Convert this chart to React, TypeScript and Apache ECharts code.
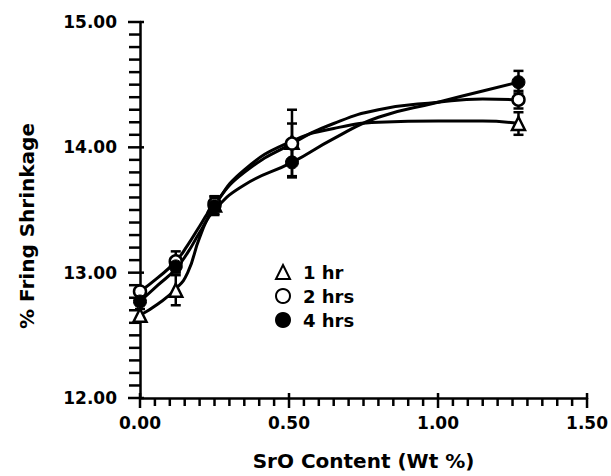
import React, { useEffect, useRef } from "react";
import * as echarts from "echarts";

const xValues = [0, 0.12, 0.25, 0.51, 1.27];
const hr1 = [12.66, 12.86, 13.54, 14.04, 14.19];
const hr2 = [12.85, 13.09, 13.55, 14.03, 14.38];
const hr4 = [12.77, 13.05, 13.53, 13.88, 14.52];
const err1 = [0.05, 0.12, 0.07, 0.15, 0.09];
const err2 = [0.03, 0.08, 0.06, 0.27, 0.07];
const err4 = [0.03, 0.05, 0.07, 0.11, 0.09];

const curveX = [0, 0.06, 0.12, 0.16, 0.2, 0.25, 0.35, 0.51, 0.65, 0.8, 1.0, 1.15, 1.27];
const fit1 = [12.66, 12.75, 12.87, 13.0, 13.28, 13.53, 13.82, 14.05, 14.15, 14.2, 14.21, 14.21, 14.19];
const fit2 = [12.85, 12.96, 13.09, 13.22, 13.37, 13.55, 13.8, 14.03, 14.19, 14.3, 14.36, 14.385, 14.38];
const fit4 = [12.77, 12.9, 13.03, 13.16, 13.32, 13.5, 13.7, 13.88, 14.07, 14.24, 14.36, 14.45, 14.52];

const seriesNames = ["1 hr", "2 hrs", "4 hrs"];
const xTickLabels = ["0.00", "0.50", "1.00", "1.50"];
const yTickLabels = ["12.00", "13.00", "14.00", "15.00"];
const xTitle = "SrO Content (Wt %)";
const yTitle = "% Fring Shrinkage";

const X_MIN = 0, X_MAX = 1.5, X_MAJOR = 0.5, X_MINOR = 0.05;
const Y_MIN = 12, Y_MAX = 15, Y_MAJOR = 1, Y_MINOR = 0.1;

const FONT = "DejaVu Sans";
const BLACK = "#000";

function pairs(xs: number[], ys: number[]) {
  return xs.map((x, i) => [x, ys[i]]);
}

function errData(ys: number[], es: number[]) {
  return xValues.map((x, i) => [x, ys[i] - es[i], ys[i] + es[i]]);
}

function errorSeries(ys: number[], es: number[]) {
  return {
    type: "custom",
    silent: true,
    z: 3,
    data: errData(ys, es),
    renderItem: (params: any, api: any) => {
      const x = api.value(0);
      const lo = api.coord([x, api.value(1)]);
      const hi = api.coord([x, api.value(2)]);
      const w = 5;
      const style = { stroke: BLACK, lineWidth: 2.5 };
      return {
        type: "group",
        children: [
          { type: "line", shape: { x1: lo[0], y1: lo[1], x2: hi[0], y2: hi[1] }, style },
          { type: "line", shape: { x1: lo[0] - w, y1: lo[1], x2: lo[0] + w, y2: lo[1] }, style },
          { type: "line", shape: { x1: hi[0] - w, y1: hi[1], x2: hi[0] + w, y2: hi[1] }, style },
        ],
      };
    },
  };
}

function curveSeries(ys: number[]) {
  return {
    type: "line",
    data: pairs(curveX, ys),
    smooth: 0.5,
    showSymbol: false,
    symbol: "none",
    silent: true,
    z: 2,
    lineStyle: { color: BLACK, width: 3 },
  };
}

// Axis tick marks (major + minor), one item per tick step, positioned through the axes' scales
const yTickSteps: number[] = [];
for (let k = 0; k <= Math.round((Y_MAX - Y_MIN) / Y_MINOR); k++) yTickSteps.push(k);
const xTickSteps: number[] = [];
for (let k = 0; k <= Math.round((X_MAX - X_MIN) / X_MINOR); k++) xTickSteps.push(k);

const tickData = [
  ...yTickSteps.map((k) => [X_MIN, Y_MIN + k * Y_MINOR, 0, k % Math.round(Y_MAJOR / Y_MINOR) === 0 ? 1 : 0]),
  ...xTickSteps.map((k) => [X_MIN + k * X_MINOR, Y_MIN, 1, k % Math.round(X_MAJOR / X_MINOR) === 0 ? 1 : 0]),
];

const tickSeries = {
  type: "custom",
  silent: true,
  z: 4,
  clip: false,
  data: tickData,
  renderItem: (params: any, api: any) => {
    const p = api.coord([api.value(0), api.value(1)]);
    const isX = api.value(2) === 1;
    const major = api.value(3) === 1;
    const style = { stroke: BLACK, lineWidth: 2.5 };
    if (!isX) {
      return {
        type: "line",
        shape: { x1: p[0] - (major ? 12 : 11), y1: p[1], x2: p[0] + (major ? 4 : 0), y2: p[1] },
        style,
      };
    }
    return {
      type: "line",
      shape: { x1: p[0], y1: p[1] - (major ? 5 : 0), x2: p[0], y2: p[1] + (major ? 10 : 8) },
      style,
    };
  },
};

export default function App() {
  const ref = useRef<HTMLDivElement>(null);
  useEffect(() => {
    document.body.style.margin = "0";
    const chart = echarts.init(ref.current!, null, { renderer: "svg" });
    chart.setOption({
      animation: false,
      backgroundColor: "#fff",
      grid: { left: 140, right: 23, top: 22, bottom: 78 },
      xAxis: {
        type: "value",
        min: X_MIN,
        max: X_MAX,
        interval: X_MAJOR,
        name: xTitle,
        nameLocation: "middle",
        nameGap: 53,
        nameTextStyle: { fontFamily: FONT, fontWeight: "bold", fontSize: 20, color: BLACK },
        axisLine: { lineStyle: { color: BLACK, width: 2.5 } },
        axisTick: { show: false },
        splitLine: { show: false },
        axisLabel: {
          margin: 16,
          fontFamily: FONT,
          fontWeight: "bold",
          fontSize: 17,
          color: BLACK,
          formatter: (v: number) => xTickLabels[Math.round((v - X_MIN) / X_MAJOR)] ?? "",
        },
      },
      yAxis: {
        type: "value",
        min: Y_MIN,
        max: Y_MAX,
        interval: Y_MAJOR,
        axisLine: { lineStyle: { color: BLACK, width: 2.5 } },
        axisTick: { show: false },
        splitLine: { show: false },
        axisLabel: {
          margin: 23,
          fontFamily: FONT,
          fontWeight: "bold",
          fontSize: 17,
          color: BLACK,
          formatter: (v: number) => yTickLabels[Math.round((v - Y_MIN) / Y_MAJOR)] ?? "",
        },
      },
      graphic: [
        {
          type: "text",
          x: 27,
          y: 226,
          rotation: Math.PI / 2,
          style: {
            text: yTitle,
            fontFamily: FONT,
            fontWeight: "bold",
            fontSize: 20,
            fill: BLACK,
            textAlign: "center",
            textVerticalAlign: "middle",
          },
        },
      ],
      legend: {
        orient: "vertical",
        left: 270,
        top: 258,
        itemGap: 6,
        itemWidth: 14,
        itemHeight: 14,
        textStyle: { fontFamily: FONT, fontWeight: "bold", fontSize: 18, color: BLACK, padding: [0, 0, 0, 8] },
        data: seriesNames,
      },
      series: [
        curveSeries(fit1),
        curveSeries(fit2),
        curveSeries(fit4),
        errorSeries(hr1, err1),
        errorSeries(hr2, err2),
        errorSeries(hr4, err4),
        {
          type: "scatter",
          z: 5,
          name: seriesNames[0],
          symbol: "triangle",
          symbolSize: 13,
          data: pairs(xValues, hr1),
          itemStyle: { color: "#fff", borderColor: BLACK, borderWidth: 2.5, opacity: 1 },
        },
        {
          type: "scatter",
          z: 5,
          name: seriesNames[1],
          symbol: "circle",
          symbolSize: 12,
          data: pairs(xValues, hr2),
          itemStyle: { color: "#fff", borderColor: BLACK, borderWidth: 2.5, opacity: 1 },
        },
        {
          type: "scatter",
          z: 5,
          name: seriesNames[2],
          symbol: "circle",
          symbolSize: 13,
          data: pairs(xValues, hr4),
          itemStyle: { color: BLACK, borderColor: BLACK, borderWidth: 1, opacity: 1 },
        },
        tickSeries,
      ],
    });
    return () => chart.dispose();
  }, []);
  return <div ref={ref} style={{ width: 611, height: 476 }} />;
}
